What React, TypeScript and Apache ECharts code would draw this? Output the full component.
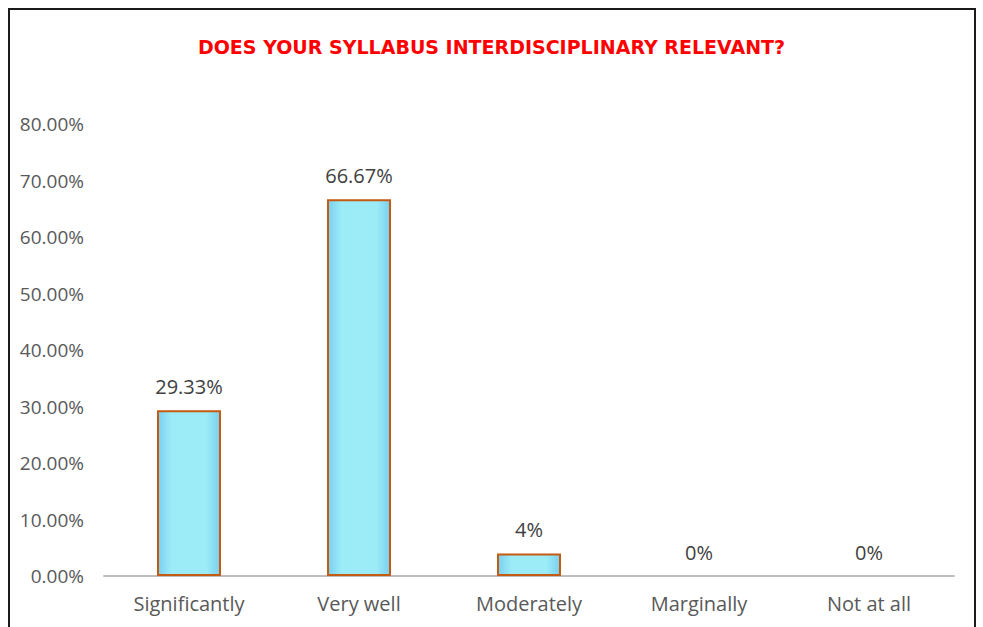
import React, { useEffect, useRef } from "react";
import * as echarts from "echarts";

const categories = ["Significantly", "Very well", "Moderately", "Marginally", "Not at all"];
const values = [29.33, 66.67, 4, 0, 0];
const yTicks = [0, 10, 20, 30, 40, 50, 60, 70, 80];
const titleText = "DOES YOUR SYLLABUS INTERDISCIPLINARY RELEVANT?";

export default function App() {
  const ref = useRef<HTMLDivElement>(null);
  useEffect(() => {
    if (!ref.current) return;
    const chart = echarts.init(ref.current, undefined, { renderer: "svg" });
    const fmtLabel = (v: number) => (Number.isInteger(v) ? `${v}%` : `${v.toFixed(2)}%`);
    chart.setOption({
      animation: false,
      backgroundColor: "#ffffff",
      title: {
        text: titleText,
        left: "center",
        top: 32,
        textStyle: {
          color: "#ff0000",
          fontSize: 19,
          fontWeight: "bold",
          fontFamily: "DejaVu Sans",
        },
      },
      graphic: [
        {
          type: "rect",
          shape: { x: 9, y: 9, width: 966, height: 640 },
          style: { fill: "none", stroke: "#1a1a1a", lineWidth: 2 },
          silent: true,
        },
      ],
      grid: { left: 104, right: 29, top: 124, bottom: 51, containLabel: false },
      xAxis: {
        type: "category",
        data: categories,
        axisLine: { show: true, lineStyle: { color: "#bfbfbf", width: 2 } },
        axisTick: { show: false },
        axisLabel: {
          color: "#595959",
          fontSize: 20,
          fontFamily: "Open Sans",
          margin: 17,
        },
      },
      yAxis: {
        type: "value",
        min: yTicks[0],
        max: yTicks[yTicks.length - 1],
        interval: 10,
        splitLine: { show: false },
        axisLine: { show: false },
        axisTick: { show: false },
        axisLabel: {
          color: "#595959",
          fontSize: 19,
          fontFamily: "Open Sans",
          margin: 20,
          formatter: (v: number) => `${v.toFixed(2)}%`,
        },
      },
      series: [
        {
          type: "bar",
          data: values.map((v) => ({
            value: v,
            itemStyle: v === 0 ? { borderWidth: 0, color: "transparent" } : undefined,
          })),
          barWidth: 64,
          itemStyle: {
            color: new echarts.graphic.LinearGradient(0, 0, 1, 0, [
              { offset: 0, color: "#7acfee" },
              { offset: 0.22, color: "#9cecf8" },
              { offset: 0.78, color: "#9cecf8" },
              { offset: 1, color: "#7acfee" },
            ]),
            borderColor: "#c55a11",
            borderWidth: 2,
          },
          label: {
            show: true,
            position: "top",
            distance: 14,
            color: "#404040",
            fontSize: 20,
            fontFamily: "Open Sans",
            formatter: (p: any) => fmtLabel(p.value),
          },
        },
      ],
    });
    return () => chart.dispose();
  }, []);
  return (
    <div
      ref={ref}
      style={{ position: "fixed", left: 0, top: 0, width: 983, height: 627 }}
    />
  );
}
